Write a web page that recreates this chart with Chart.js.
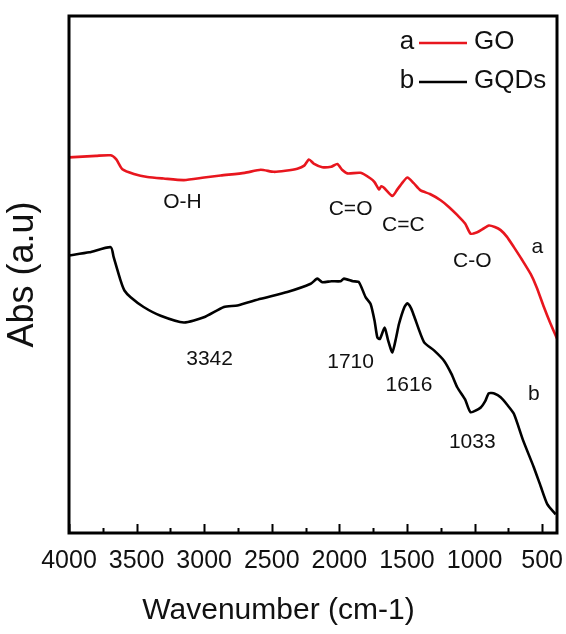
<!DOCTYPE html>
<html>
<head>
<meta charset="utf-8">
<script src="https://cdn.jsdelivr.net/npm/chart.js@4.4.1/dist/chart.umd.min.js"></script>
<style>
  html, body { margin: 0; padding: 0; background: #ffffff; }
  canvas { display: block; }
</style>
</head>
<body>
<canvas id="c" width="566" height="634"></canvas>
<script>
// ---- data ----
const seriesNames = ['GO', 'GQDs'];
const seriesTags = ['a', 'b'];

const goWavenumber = [4000, 3800, 3691, 3650, 3605, 3520, 3420, 3300, 3150, 3000, 2878, 2700, 2582, 2486, 2400, 2311, 2260, 2225, 2190, 2126, 2060, 2015, 1980, 1941, 1843, 1769, 1740, 1707, 1690, 1670, 1608, 1571, 1530, 1497, 1450, 1399, 1330, 1251, 1190, 1127, 1070, 1029, 980, 940, 894, 850, 807, 760, 709, 650, 585, 540, 487, 440, 390];
const goAbs        = [72.4, 72.7, 72.8, 72.0, 70.1, 69.2, 68.6, 68.3, 68.0, 68.5, 68.9, 69.4, 70.0, 69.6, 69.8, 70.2, 70.8, 72.0, 71.2, 70.5, 70.6, 71.1, 70.0, 69.3, 69.4, 68.3, 67.6, 66.2, 66.8, 66.5, 64.9, 66.2, 67.6, 68.5, 67.4, 66.0, 65.3, 64.1, 62.8, 61.2, 59.6, 57.6, 57.9, 58.5, 59.2, 58.9, 58.3, 57.0, 55.0, 52.6, 49.8, 47.2, 43.4, 40.3, 37.3];

const gqdWavenumber = [4000, 3850, 3691, 3670, 3618, 3590, 3544, 3448, 3322, 3150, 3002, 2854, 2754, 2582, 2385, 2212, 2163, 2126, 2060, 1990, 1966, 1900, 1855, 1806, 1769, 1740, 1719, 1700, 1665, 1640, 1608, 1580, 1559, 1520, 1497, 1470, 1448, 1374, 1300, 1226, 1170, 1127, 1070, 1029, 955, 920, 894, 850, 807, 760, 709, 640, 561, 510, 462, 400];
const gqdAbs        = [53.4, 54.0, 55.0, 53.1, 48.5, 46.6, 45.3, 43.4, 41.7, 40.4, 41.4, 43.4, 43.7, 45.0, 46.3, 47.9, 48.9, 48.2, 48.4, 48.4, 48.9, 48.4, 48.2, 45.3, 44.0, 40.8, 37.5, 37.2, 39.4, 37.0, 34.6, 37.5, 40.1, 43.3, 44.1, 43.2, 41.7, 36.6, 35.0, 33.0, 30.4, 27.8, 25.5, 23.0, 23.9, 25.2, 26.7, 26.6, 25.9, 24.5, 22.7, 17.5, 12.3, 8.6, 5.2, 3.2];

const xMajorTicks = [4000, 3500, 3000, 2500, 2000, 1500, 1000, 500];
const xMinorTicks = [3750, 3250, 2750, 2250, 1750, 1250, 750];

// peak annotations: [text, wavenumber, abs]
const annotationText = ['O-H', 'C=O', 'C=C', 'C-O', 'a', '3342', '1710', '1616', '1033', 'b'];
const annotationWn   = [3161, 1917, 1527, 1017, 536, 2960, 1917, 1485, 1017, 561];
const annotationAbs  = [63.7, 62.4, 59.2, 52.2, 55.0, 33.3, 32.7, 28.2, 17.2, 26.5];

// ---- build ----
const FONT = "'Liberation Sans', Arial, sans-serif";
const colors = ['#e8161e', '#000000'];

function pairs(xs, ys) { return xs.map((x, i) => ({ x: x, y: ys[i] })); }

const framePlugin = {
  id: 'frameTicks',
  afterDatasetsDraw(chart) {
    const { ctx, chartArea: a, scales } = chart;
    const xs = scales.x;
    ctx.save();
    ctx.strokeStyle = '#000';
    ctx.lineWidth = 2;
    ctx.beginPath();
    xMajorTicks.forEach(v => {
      const p = Math.round(xs.getPixelForValue(v)) + 0.5;
      ctx.moveTo(p, a.bottom); ctx.lineTo(p, a.bottom - 9);
    });
    xMinorTicks.forEach(v => {
      const p = Math.round(xs.getPixelForValue(v)) + 0.5;
      ctx.moveTo(p, a.bottom); ctx.lineTo(p, a.bottom - 5);
    });
    ctx.stroke();
    ctx.lineWidth = 3;
    ctx.strokeRect(a.left, a.top, a.right - a.left, a.bottom - a.top);
    ctx.restore();
  },
  afterDraw(chart) {
    const { ctx, scales } = chart;
    const xs = scales.x, ys = scales.y;
    ctx.save();
    ctx.fillStyle = '#111';
    ctx.textAlign = 'center';
    ctx.textBaseline = 'middle';
    ctx.font = '21px ' + FONT;
    annotationText.forEach((t, i) => {
      ctx.fillText(t, xs.getPixelForValue(annotationWn[i]), ys.getPixelForValue(annotationAbs[i]));
    });
    // legend: "a —— GO", "b —— GQDs"
    ctx.font = '26px ' + FONT;
    const a = chart.chartArea;
    const rowY = [a.top + 26, a.top + 65];
    const tagX = a.right - 150;
    const lineX0 = a.right - 138, lineX1 = a.right - 90;
    const textX = a.right - 83;
    chart.data.datasets.forEach((ds, i) => {
      ctx.fillStyle = '#111';
      ctx.textAlign = 'center';
      ctx.fillText(seriesTags[i], tagX, rowY[i]);
      ctx.strokeStyle = ds.borderColor;
      ctx.lineWidth = 2.5;
      ctx.beginPath();
      ctx.moveTo(lineX0, rowY[i] + 1); ctx.lineTo(lineX1, rowY[i] + 1);
      ctx.stroke();
      ctx.textAlign = 'left';
      ctx.fillText(ds.label, textX, rowY[i]);
    });
    ctx.restore();
  }
};

new Chart(document.getElementById('c'), {
  type: 'line',
  data: {
    datasets: [
      { label: seriesNames[0], data: pairs(goWavenumber, goAbs), borderColor: colors[0], borderWidth: 2.6, pointRadius: 0, tension: 0.2, fill: false },
      { label: seriesNames[1], data: pairs(gqdWavenumber, gqdAbs), borderColor: colors[1], borderWidth: 2.6, pointRadius: 0, tension: 0.2, fill: false }
    ]
  },
  options: {
    responsive: false,
    animation: false,
    devicePixelRatio: 1,
    layout: { padding: { top: 16, right: 9, left: 0, bottom: 0 } },
    plugins: {
      legend: { display: false },
      tooltip: { enabled: false },
      title: {
        display: true,
        position: 'bottom',
        text: 'Wavenumber (cm-1)',
        color: '#111',
        font: { family: FONT, size: 30, weight: 'normal' },
        padding: { top: 0, bottom: 5 }
      }
    },
    scales: {
      x: {
        type: 'linear',
        reverse: true,
        min: 390,
        max: 4000,
        grid: { display: false, drawTicks: false },
        border: { display: false },
        afterBuildTicks: (s) => { s.ticks = xMajorTicks.map(v => ({ value: v })); },
        afterFit: (s) => { s.height = 60; s.paddingLeft = 0; s.paddingRight = 0; },
        ticks: {
          color: '#111',
          padding: 13,
          maxRotation: 0,
          autoSkip: false,
          font: { family: FONT, size: 25 },
          callback: (v) => String(v)
        }
      },
      y: {
        type: 'linear',
        min: -0.4,
        max: 99.8,
        grid: { display: false, drawTicks: false },
        border: { display: false },
        ticks: { display: false },
        afterFit: (s) => { s.width = 69; s.paddingTop = 0; s.paddingBottom = 0; },
        title: {
          display: true,
          text: 'Abs (a.u)',
          color: '#111',
          font: { family: FONT, size: 36, weight: 'normal' },
          padding: { top: 1, bottom: 0 }
        }
      }
    }
  },
  plugins: [framePlugin]
});
</script>
</body>
</html>
